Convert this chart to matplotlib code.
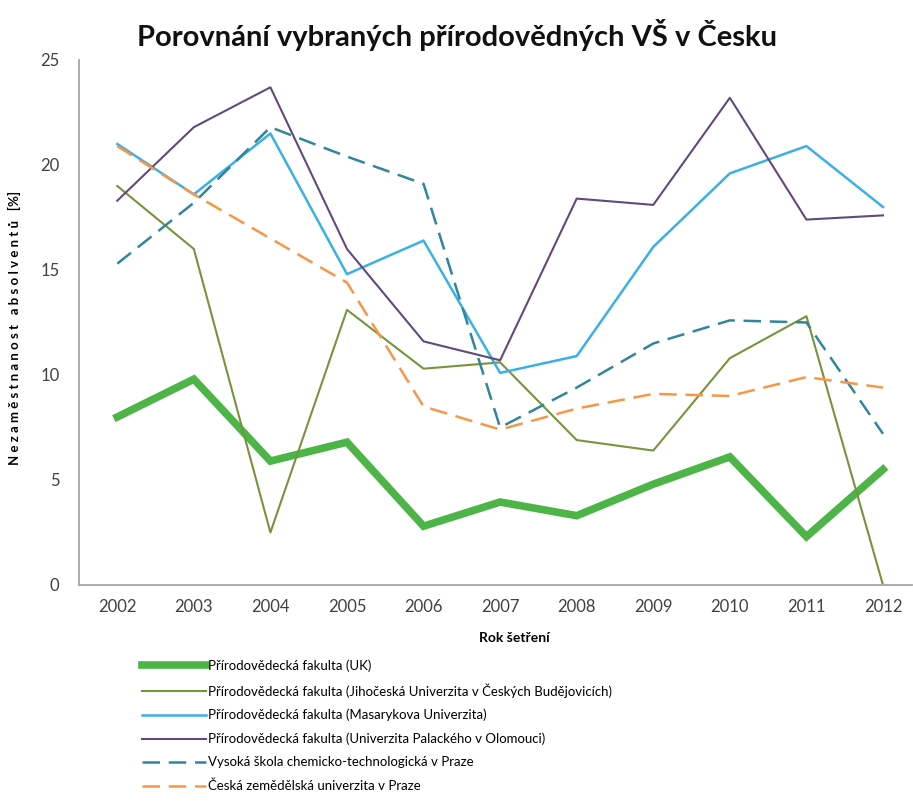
import matplotlib.pyplot as plt

plt.rcParams['font.family'] = ['Lato', 'Open Sans', 'DejaVu Sans']

roky = [2002, 2003, 2004, 2005, 2006, 2007, 2008, 2009, 2010, 2011, 2012]

uk = [8.0, 9.8, 5.9, 6.8, 2.8, 3.95, 3.3, 4.8, 6.1, 2.3, 5.5]
jcu = [19.0, 16.0, 2.5, 13.1, 10.3, 10.6, 6.9, 6.4, 10.8, 12.8, 0.0]
muni = [21.0, 18.6, 21.5, 14.8, 16.4, 10.1, 10.9, 16.1, 19.6, 20.9, 18.0]
upol = [18.3, 21.8, 23.7, 16.0, 11.6, 10.7, 18.4, 18.1, 23.2, 17.4, 17.6]
vscht = [15.3, 18.2, 21.8, 20.4, 19.1, 7.5, 9.4, 11.5, 12.6, 12.5, 7.2]
czu = [20.9, 18.6, 16.5, 14.4, 8.5, 7.4, 8.4, 9.1, 9.0, 9.9, 9.4]

nazvy = [
    'Přírodovědecká fakulta (UK)',
    'Přírodovědecká fakulta (Jihočeská Univerzita v Českých Budějovicích)',
    'Přírodovědecká fakulta (Masarykova Univerzita)',
    'Přírodovědecká fakulta (Univerzita Palackého v Olomouci)',
    'Vysoká škola chemicko-technologická v Praze',
    'Česká zemědělská univerzita v Praze',
]

fig = plt.figure(figsize=(9.13, 8.02), dpi=100)
ax = fig.add_axes([0.0865, 0.2706, 0.9125, 0.6546])

ax.plot(roky, uk, color='#4db548', lw=5.5, label=nazvy[0], solid_joinstyle='miter')
ax.plot(roky, jcu, color='#77933c', lw=1.5, label=nazvy[1])
ax.plot(roky, muni, color='#3bb0e6', lw=1.8, label=nazvy[2])
ax.plot(roky, upol, color='#604a7b', lw=1.5, label=nazvy[3])
ax.plot(roky, vscht, color='#31859c', lw=1.8, dashes=(7, 3.5), label=nazvy[4])
ax.plot(roky, czu, color='#f79646', lw=1.8, dashes=(7, 3.5), label=nazvy[5])

ax.set_xlim(2001.5, 2012.38)
ax.set_ylim(0, 25)
ax.set_xticks(roky)
ax.set_yticks([0, 5, 10, 15, 20, 25])
ax.tick_params(length=0, labelsize=12, colors='#404040')
ax.tick_params(axis='x', pad=10)
ax.tick_params(axis='y', pad=14)
for s in ['top', 'right']:
    ax.spines[s].set_visible(False)
for s in ['left', 'bottom']:
    ax.spines[s].set_color('#a6a6a6')
    ax.spines[s].set_linewidth(1.3)

ax.set_xlabel('Rok šetření', fontsize=10, fontweight='bold')
ax.xaxis.set_label_coords(0.522, -0.09)
ax.set_ylabel('N e z a m ě s t n a n o s t   a b s o l v e n t ů   [%]',
              fontsize=9.5, fontweight='bold')
ax.yaxis.set_label_coords(-0.069, 0.49)

fig.text(0.5, 0.956, 'Porovnání vybraných přírodovědných VŠ v Česku',
         ha='center', va='center', fontsize=21, fontweight='bold', color='#111111')

fig.legend(loc='upper left', bbox_to_anchor=(0.148, 0.186), frameon=False,
           fontsize=9.5, handlelength=4.9, handletextpad=0.15,
           labelspacing=0.85, borderpad=0)

fig.savefig('out.png', dpi=100)
